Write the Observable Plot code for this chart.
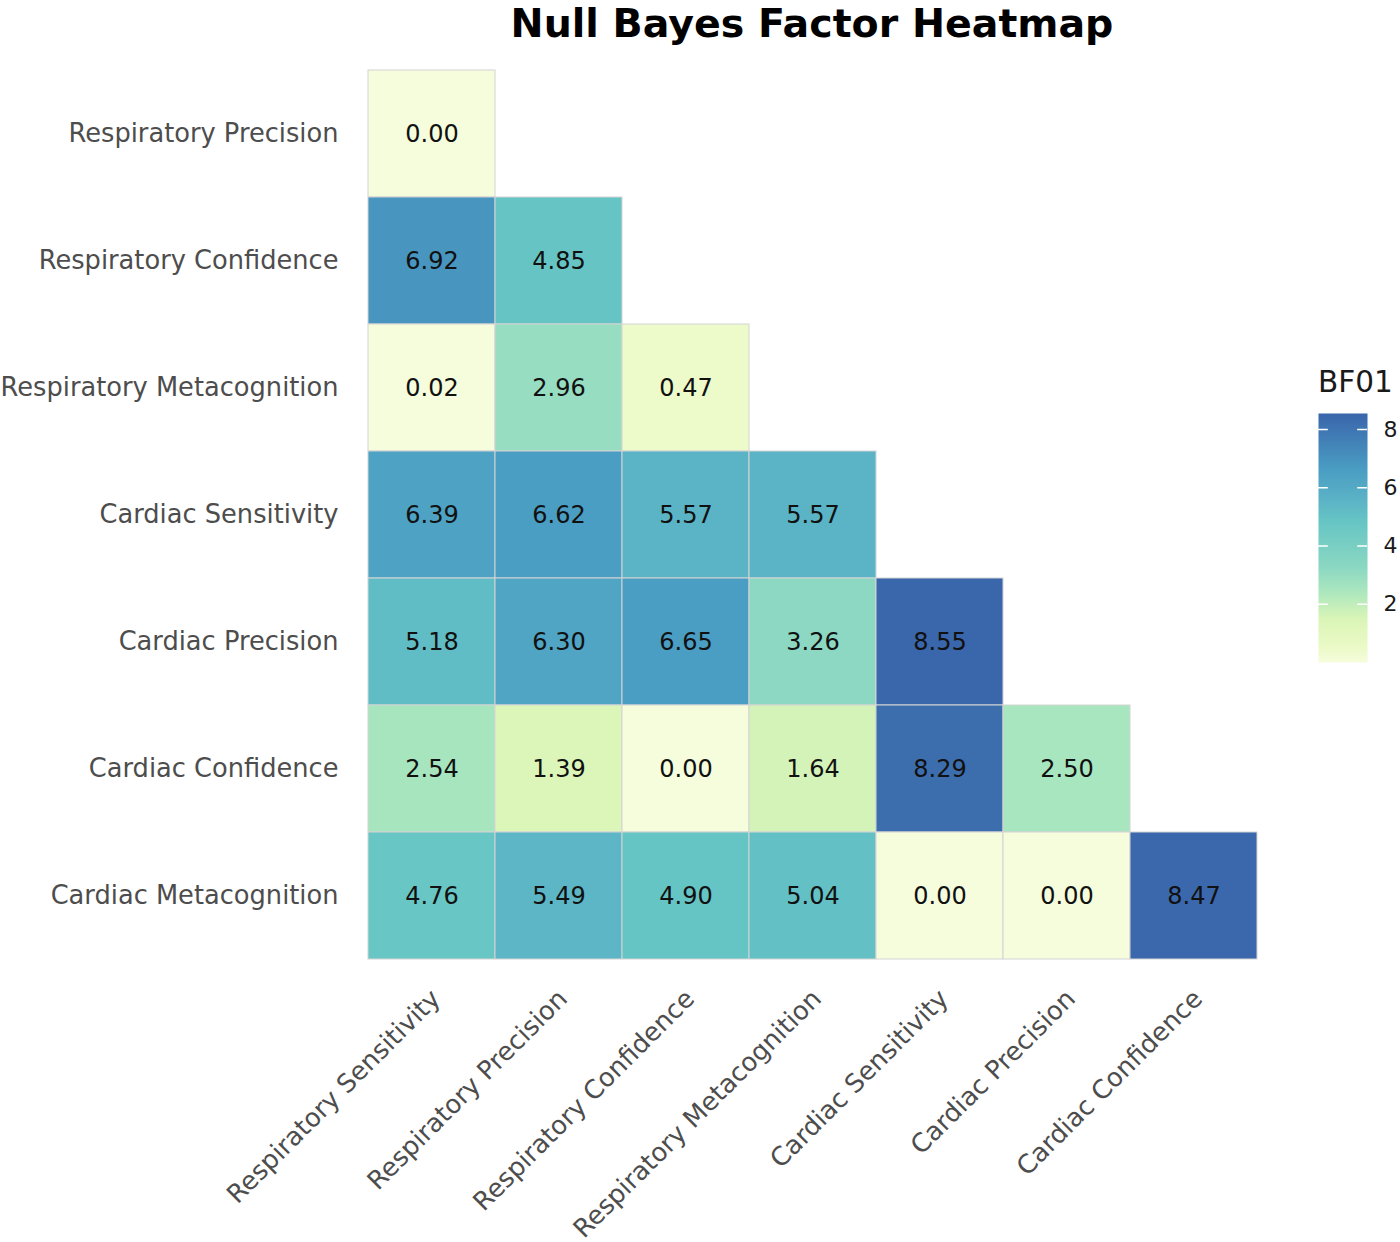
<!DOCTYPE html>
<html>
<head>
<meta charset="utf-8">
<script src="https://cdn.jsdelivr.net/npm/d3@7"></script>
<script src="https://cdn.jsdelivr.net/npm/@observablehq/plot@0.6"></script>
<style>
  body { margin: 0; background: #fff; font-family: "DejaVu Sans", sans-serif; }
  #wrap { position: relative; width: 1400px; height: 1242px; overflow: hidden; }
  #title { height: 60px; margin-left: 366px; width: 892px; text-align: center;
           font-weight: bold; font-size: 39.5px; line-height: 46px; color: #000; }
  #legend-title { position: absolute; left: 1318px; top: 368px; font-size: 29.5px;
                  line-height: 29px; color: #1a1a1a; }
  #legend { position: absolute; left: 1300px; top: 400px; }
</style>
</head>
<body>
<div id="wrap">
  <div id="title">Null Bayes Factor Heatmap</div>
  <div id="chart"></div>
  <div id="legend-title">BF01</div>
  <div id="legend"></div>
</div>
<script>
// Measures compared pairwise (lower triangle of the matrix)
const rowLabels = [
  "Respiratory Precision",
  "Respiratory Confidence",
  "Respiratory Metacognition",
  "Cardiac Sensitivity",
  "Cardiac Precision",
  "Cardiac Confidence",
  "Cardiac Metacognition"
];
const colLabels = [
  "Respiratory Sensitivity",
  "Respiratory Precision",
  "Respiratory Confidence",
  "Respiratory Metacognition",
  "Cardiac Sensitivity",
  "Cardiac Precision",
  "Cardiac Confidence"
];

// BF01 per row, one value per column up to the diagonal
const respPrecisionBF = [0.00];
const respConfidenceBF = [6.92, 4.85];
const respMetacognitionBF = [0.02, 2.96, 0.47];
const cardSensitivityBF = [6.39, 6.62, 5.57, 5.57];
const cardPrecisionBF = [5.18, 6.30, 6.65, 3.26, 8.55];
const cardConfidenceBF = [2.54, 1.39, 0.00, 1.64, 8.29, 2.50];
const cardMetacognitionBF = [4.76, 5.49, 4.90, 5.04, 0.00, 0.00, 8.47];

const legendTicks = [2, 4, 6, 8];

const rowValues = [
  respPrecisionBF, respConfidenceBF, respMetacognitionBF,
  cardSensitivityBF, cardPrecisionBF, cardConfidenceBF, cardMetacognitionBF
];

const cells = [];
rowLabels.forEach((row, i) => {
  rowValues[i].forEach((v, j) => cells.push({row, col: colLabels[j], value: v}));
});

const bfMax = d3.max(cells, d => d.value);

// Yellow-green-blue ramp shared by the heatmap and its colour bar
const colorScale = {
  type: "linear",
  domain: [0, 0.5, 1.5, 2.5, 3.3, 4.85, 5.6, 6.65, bfMax],
  range: ["#f6fddd", "#ecfac8", "#daf5b7", "#a8e6bf", "#8ad7c2", "#66c5c4", "#5bb3c6", "#4a9dc3", "#3a66ab"],
  clamp: true
};

const chart = Plot.plot({
  width: 1400,
  height: 1182,
  marginLeft: 366,
  marginRight: 142,
  marginTop: 8,
  marginBottom: 282,
  style: {fontFamily: "DejaVu Sans, sans-serif", background: "white"},
  x: {domain: colLabels, padding: 0, label: null},
  y: {domain: rowLabels, padding: 0, label: null},
  color: colorScale,
  marks: [
    Plot.cell(cells, {x: "col", y: "row", fill: "value", stroke: "#d4d4d4", strokeWidth: 1}),
    Plot.text(cells, {x: "col", y: "row", text: d => d.value.toFixed(2), fontSize: 24, fill: "#111"}),
    Plot.axisY({tickSize: 0, tickPadding: 28, fontSize: 25.7, color: "#4d4d4d", label: null}),
    Plot.axisX({tickSize: 0, tickPadding: 34, tickRotate: -45, fontSize: 25.7, dx: 4, color: "#4d4d4d", label: null})
  ]
});
document.getElementById("chart").appendChild(chart);

// Vertical colour bar
const legend = Plot.plot({
  width: 100,
  height: 282,
  marginLeft: 18,
  marginRight: 33,
  marginTop: 13,
  marginBottom: 20,
  style: {fontFamily: "DejaVu Sans, sans-serif", background: "transparent"},
  x: {domain: [0, 1], axis: null},
  y: {domain: [0, bfMax]},
  color: colorScale,
  marks: [
    Plot.raster({fill: (x, y) => y, x1: 0, x2: 1, y1: 0, y2: bfMax, width: 1, height: 250, imageRendering: "auto"}),
    Plot.ruleY(legendTicks, {x1: 0, x2: 0.2, stroke: "white", strokeWidth: 1.5}),
    Plot.ruleY(legendTicks, {x1: 0.8, x2: 1, stroke: "white", strokeWidth: 1.5}),
    Plot.axisY(legendTicks, {anchor: "right", tickSize: 0, tickPadding: 16, fontSize: 22, color: "#1a1a1a", label: null})
  ]
});
document.getElementById("legend").appendChild(legend);
</script>
</body>
</html>
